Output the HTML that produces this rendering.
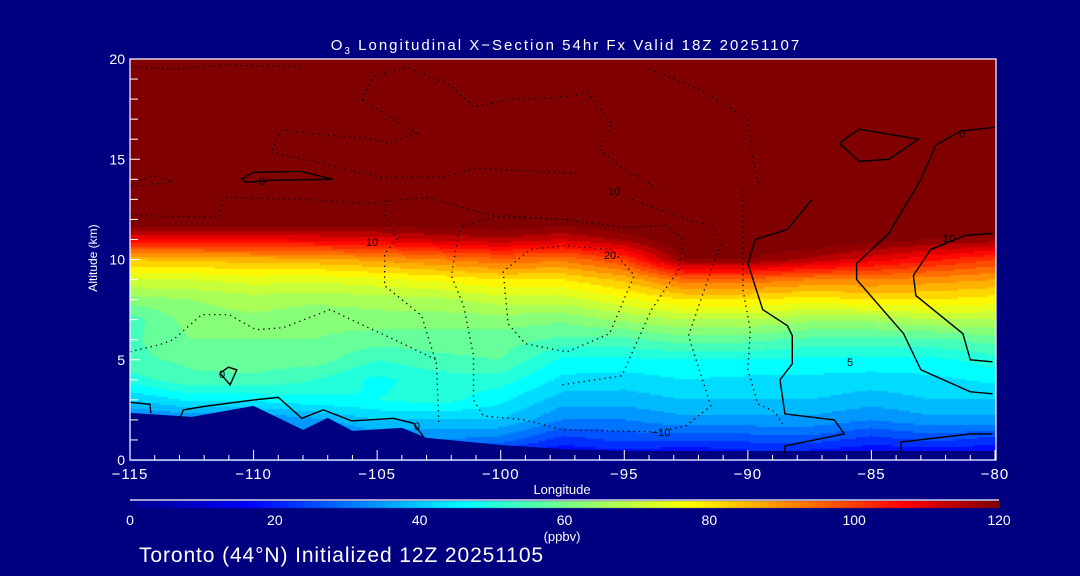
<!DOCTYPE html>
<html><head><meta charset="utf-8"><style>
html,body{margin:0;padding:0;background:#000080;}
#wrap{position:relative;width:1080px;height:576px;background:#000080;overflow:hidden;font-family:"Liberation Sans",sans-serif;color:#fff;}
canvas{position:absolute;left:0;top:0;}
svg{position:absolute;left:0;top:0;}
</style></head><body>
<div id="wrap">
<canvas id="field" width="1080" height="576"></canvas>
<svg id="ov" width="1080" height="576"></svg>
</div>
<script>
// ---- data ----
const lons = [-115,-112.5,-110,-107.5,-105,-102.5,-100,-97.5,-95,-92.5,-90,-87.5,-85,-82.5,-80];
const alts = [0.5,1,2,3,4,5,6,7,8,9,10,11,12,13,20];
const colM115 = [30,30,30,40,50,55,55,54,62,72,84,108,126,127,130];
const colM1125 = [30,30,32,45,55,57,60,62,64,72,85,108,126,127,130];
const colM110 = [30,30,32,45,55,58,60,63,66,74,86,108,126,127,130];
const colM1075 = [30,30,35,47,52,58,60,61,65,73,87,109,126,127,130];
const colM105 = [30,32,40,48,47,52,58,62,66,75,89,110,126,127,130];
const colM1025 = [28,32,40,50,50,55,58,62,67,77,92,113,126,127,130];
const colM100 = [22,30,40,45,50,56,58,62,70,80,95,115,126,127,130];
const colM975 = [18,22,32,38,43,47,55,61,70,80,93,112,125,127,130];
const colM95 = [20,25,32,38,42,47,55,65,75,85,100,117,126,127,130];
const colM925 = [18,25,35,40,44,48,58,68,80,95,120,125,126,127,130];
const colM90 = [20,25,35,40,43,48,57,68,80,95,120,125,126,127,130];
const colM875 = [20,26,35,40,43,47,55,65,78,92,115,125,126,127,130];
const colM85 = [18,22,32,38,42,47,55,65,80,92,110,122,126,127,130];
const colM825 = [18,25,35,40,43,47,55,68,80,90,105,120,126,127,130];
const colM80 = [18,22,35,40,45,50,58,68,78,88,100,118,126,127,130];
const columns = [colM115,colM1125,colM110,colM1075,colM105,colM1025,colM100,colM975,colM95,colM925,colM90,colM875,colM85,colM825,colM80];
const terrainLon = [-115,-112.5,-110,-108,-107,-106,-104,-103,-100,-97.5,-95,-80];
const terrainAlt = [2.35,2.15,2.7,1.5,2.1,1.45,1.6,1.1,0.75,0.55,0.45,0.45];
const xTicks = [-115,-110,-105,-100,-95,-90,-85,-80];
const xTickLabels = ["\u2212115","\u2212110","\u2212105","\u2212100","\u221295","\u221290","\u221285","\u221280"];
const yTicks = [0,5,10,15,20];
const cbTicks = [0,20,40,60,80,100,120];
// contours: [lon,alt] pairs
const cSolidWest = [[-112.98,2.08],[-112.84,2.5],[-112.03,2.67],[-110,3.0],[-109,3.12],[-108.05,2.08],[-107.18,2.5],[-106.03,1.95],[-104.34,2.08],[-103.53,1.83],[-103.13,1.17]];
const cSolidBox = [[-115,2.88],[-114.19,2.78],[-114.16,2.33]];
const cSolidQuad = [[-111.36,4.33],[-110.95,3.75],[-110.68,4.5],[-111.02,4.63],[-111.36,4.33]];
const cSolidLoopHigh = [[-110.5,14],[-110,14.35],[-108.1,14.4],[-106.8,14],[-109.3,13.95],[-110.3,13.85],[-110.5,14]];
const cSolidLoopEast = [[-86.3,15.8],[-85.5,16.5],[-83.1,16.0],[-84.3,15.0],[-85.5,14.9],[-86.3,15.8]];
const cSolid0 = [[-87.4,13],[-88.4,11.5],[-89.7,11],[-90,9.8],[-89.4,7.5],[-88.4,6.7],[-88.2,6.2],[-88.2,4.8],[-88.7,4],[-88.5,2.3],[-86.5,2],[-86.1,1.3],[-88.5,0.7],[-88.5,0.35]];
const cSolid5 = [[-80,16.6],[-81.4,16.4],[-82.4,15.7],[-83.0,14.0],[-84.3,11.3],[-85.6,9.8],[-85.6,9],[-83.7,6.3],[-83,4.5],[-81,3.4],[-80.1,3.3]];
const cSolid10 = [[-80.1,11.3],[-81.2,11.2],[-82.6,10.5],[-83.3,9.2],[-83.2,8.2],[-81.3,6.3],[-81,5],[-80.1,4.9]];
const cSolidBottomE = [[-83.8,0.35],[-83.8,0.9],[-81,1.3],[-80.1,1.3]];
const cDotA = [[-104.6,13],[-104.7,12.2],[-104.2,11],[-104.7,10.3],[-104.7,8.7],[-103.2,7.2],[-102.6,4.8],[-102.5,1.8]];
const cDotB = [[-97.5,12],[-100,12.2],[-101.5,11.7],[-101.7,11.3],[-102,9.2],[-101.5,7.7],[-101.1,5.2],[-101.1,3],[-100.7,2.2],[-99,2],[-97.5,1.5],[-93.7,1.4],[-92.5,1.7],[-91.5,2.7],[-92.4,6.2],[-91.9,8],[-91.1,10.8],[-91.4,11.7],[-92.5,12],[-94.7,13]];
const cDot20 = [[-99.9,9.4],[-99.7,6.8],[-99,5.8],[-97.8,5.5],[-97.3,5.4],[-95.6,6.3],[-94.6,9.2],[-95.5,10.5],[-97.5,10.7],[-98.8,10.5],[-99.9,9.4]];
const cDot10 = [[-97.5,3.75],[-95.1,4.2],[-93.9,7.5],[-92.8,9.5],[-92.6,11],[-93.3,11.7],[-95,11.6],[-97.5,12]];
const cDotE = [[-90.2,13.5],[-90.2,11],[-90.2,8.5],[-89.9,6.5],[-90.0,4.5],[-89.6,2.8],[-88.9,2.4],[-88.6,1.8]];
const cDotWest = [[-115,5.4],[-113.8,5.75],[-113.25,6],[-112.1,7.25],[-111,7.25],[-109.9,6.5],[-108.8,6.6],[-106.9,7.5],[-105.7,6.8],[-104.3,6],[-102.6,5]];
const cDotUp1 = [[-105.6,17.95],[-105.2,19.1],[-103.8,19.6],[-102.05,18.7],[-101.1,17.6],[-99.5,18],[-97.9,18.05],[-96.5,18.3],[-95.5,16.8],[-96,15.5],[-95,14.5],[-93.6,13.5]];
const cDotUp2 = [[-105.6,17.95],[-103.4,16.3],[-104.5,15.8],[-105.4,16.05],[-107,16.2],[-108.9,16.45],[-109.3,15.3],[-108.1,15.05],[-104.9,14.1],[-102.3,14.1],[-101.1,14.55],[-96.9,14.3]];
const cDotUp3 = [[-115,12.2],[-111.4,12.1],[-111.2,13.1],[-108,13],[-105.4,12.8],[-103,13.1],[-100.1,12.1],[-97.1,12]];
const cDotUp4 = [[-115,13.7],[-114.1,14.2],[-113.3,13.9],[-115,13.6]];
const cDotTop = [[-115,19.6],[-113.3,19.5],[-111,19.7],[-108,19.6]];
const cDotTR = [[-94,19.5],[-92,18.5],[-90,17],[-89.8,15],[-89.5,13.5]];

// ---- scales ----
const X0=130,X1=995,Y0=460,Y1=59;
const xs = lon => X0+(lon+115)/35*(X1-X0);
const ys = z => Y0-(z/20)*(Y0-Y1);
const lonAt = px => -115+(px-X0)/(X1-X0)*35;
const altAt = py => (Y0-py)/(Y0-Y1)*20;

const stops=[[0,[0,0,140]],[16.6,[0,0,255]],[46,[0,255,255]],[61,[128,255,128]],[77,[255,255,0]],[107,[255,0,0]],[120,[128,0,0]]];
function cmap(v){
  if(v<=0) return stops[0][1];
  if(v>=120) return stops[stops.length-1][1];
  for(let i=1;i<stops.length;i++){ if(v<=stops[i][0]){const a=stops[i-1],b=stops[i];const t=(v-a[0])/(b[0]-a[0]);return a[1].map((c,k)=>Math.round(c+(b[1][k]-c)*t));}}
}
function interp1(xa,ya,x){
  if(x<=xa[0]) return ya[0];
  for(let i=1;i<xa.length;i++) if(x<=xa[i]){const t=(x-xa[i-1])/(xa[i]-xa[i-1]);return ya[i-1]+(ya[i]-ya[i-1])*t;}
  return ya[ya.length-1];
}
function field(lon,z){
  let i=0; while(i<lons.length-2 && lon>lons[i+1]) i++;
  const t=Math.max(0,Math.min(1,(lon-lons[i])/(lons[i+1]-lons[i])));
  const a=interp1(alts,columns[i],z), b=interp1(alts,columns[i+1],z);
  return a+(b-a)*t;
}
// ---- draw field ----
const cv=document.getElementById('field'); const ctx=cv.getContext('2d');
for(let px=X0;px<X1;px+=2){
  const lon=lonAt(px+1);
  for(let py=Y1;py<Y0;py+=2){
    const z=altAt(py+1);
    let v=field(lon,z); v=Math.floor(v/4)*4+2; const c=cmap(v);
    ctx.fillStyle='rgb('+c[0]+','+c[1]+','+c[2]+')';
    ctx.fillRect(px,py,2,2);
  }
}
// colorbar
for(let px=X0;px<=X1+4;px++){
  const c=cmap((px-X0)/(X1+4-X0)*120);
  ctx.fillStyle='rgb('+c[0]+','+c[1]+','+c[2]+')';
  ctx.fillRect(px,501,1,7);
}
// ---- overlay ----
const NS='http://www.w3.org/2000/svg';
const ov=document.getElementById('ov');
function mk(tag,attrs){const e=document.createElementNS(NS,tag);for(const k in attrs)e.setAttribute(k,attrs[k]);ov.appendChild(e);return e;}
// terrain polygon
const terPts=terrainLon.map((l,i)=>xs(l).toFixed(1)+','+ys(terrainAlt[i]).toFixed(1));
const terr=mk('polygon',{points:terPts.join(' ')+' '+X1+','+Y0+' '+X0+','+Y0,fill:'#000080',stroke:'none'});


function contour(pts,dotted,name){
  const e=mk('polyline',{points:pts.map(p=>xs(p[0]).toFixed(1)+','+ys(p[1]).toFixed(1)).join(' '),fill:'none',stroke:'#000','stroke-width':dotted?1.3:1.4,'stroke-dasharray':dotted?'1.3,4':'none'});
  
  
}
contour(cSolidWest,false,'contour-0-terrain');
contour(cSolidBox,false,'contour-0-west-edge');
contour(cSolidQuad,false,'contour-0-small-loop');
contour(cSolidLoopHigh,false,'contour-0-upper-loop');
contour(cSolidLoopEast,false,'contour-0-east-loop');
contour(cSolid0,false,'contour-0-east');
contour(cSolid5,false,'contour-5-east');
contour(cSolid10,false,'contour-10-east');
contour(cSolidBottomE,false,'contour-bottom-east');
[cDotA,cDotB,cDot20,cDot10,cDotE,cDotWest,cDotUp1,cDotUp2,cDotUp3,cDotUp4,cDotTop,cDotTR].forEach((c,i)=>contour(c,true,'contour-negative-'+i));
function txt(x,y,s,size,anchor,name,extra){
  const e=mk('text',Object.assign({x:x,y:y,fill:'#fff','font-size':size,'text-anchor':anchor||'start','font-family':'Liberation Sans, sans-serif'},extra||{}));
  e.textContent=s;
  
  
  return e;
}
// contour labels
[[262,185,'0'],[962,137,'0'],[614,195,'10'],[372,246,'10'],[610,259,'20'],[949,242,'10'],[850,366,'5'],[661,436,'\u221210'],[417,430,'0'],[222,378,'0']].forEach((l,i)=>{
  const e=txt(l[0],l[1],l[2],11,'middle','contour-label');
  e.setAttribute('fill','#000');
});
// axes
const axis=mk('path',{d:'M'+X0+' '+Y1+' H'+(X1+1)+' V'+Y0+' H'+X0+' Z',fill:'none',stroke:'#fff','stroke-width':1.2});


for(let l=-115;l<=-80;l++){
  const major=(l%5===0);
  const t=mk('line',{x1:xs(l),x2:xs(l),y1:Y0,y2:Y0-(major?10:5),stroke:'#fff','stroke-width':1});
  
  
}
xTicks.forEach((l,i)=>txt(xs(l),479,xTickLabels[i],15,'middle','x-tick-label',{'letter-spacing':'1'}));
for(let z=0;z<=20;z++){
  const major=(z%5===0);
  const t=mk('line',{x1:X0,x2:X0+(major?10:8),y1:ys(z),y2:ys(z),stroke:'#fff','stroke-width':1});
  
  
}
yTicks.forEach(z=>txt(125,ys(z)+5,String(z),14,'end','y-tick-label'));
txt(562,494,'Longitude',13,'middle','x-axis-title');
txt(97,258,'Altitude (km)',12,'middle','y-axis-title',{transform:'rotate(-90 97 258)'});
const title=txt(566,50,'',15,'middle','chart-title',{'letter-spacing':'2'});
title.innerHTML='O<tspan font-size="10" dy="4">3</tspan><tspan dy="-4"> Longitudinal X\u2212Section 54hr  Fx Valid 18Z 20251107</tspan>';
// colorbar frame & labels
const cbl=mk('line',{x1:X0,x2:X1+4,y1:500,y2:500,stroke:'#fff','stroke-width':1.2});


cbTicks.forEach(v=>txt(X0+v/120*(X1+4-X0),525,String(v),14,'middle','colorbar-tick-label'));
txt(562,541,'(ppbv)',13,'middle','colorbar-unit');
txt(139,562,'Toronto (44\u00b0N) Initialized 12Z 20251105',21,'start','footer-caption',{'letter-spacing':'0.9'});
</script>
</body></html>
